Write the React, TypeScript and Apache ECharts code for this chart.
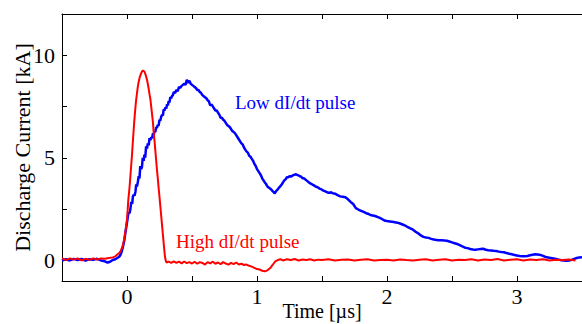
import { useEffect, useRef } from "react";
import * as echarts from "echarts";

const blueTime = [
  -0.5, -0.47, -0.44, -0.41, -0.38, -0.35, -0.32, -0.29, -0.26, -0.23, -0.2, -0.17, -0.15, -0.13, -0.11, -0.09,
  -0.075, -0.06, -0.05, -0.04, -0.03, -0.02, -0.01, 0, 0.007, 0.013, 0.02, 0.026, 0.033, 0.04, 0.045, 0.051,
  0.058, 0.065, 0.071, 0.077, 0.084, 0.09, 0.096, 0.102, 0.109, 0.115, 0.121, 0.128, 0.134, 0.14, 0.147, 0.154,
  0.16, 0.167, 0.173, 0.18, 0.186, 0.193, 0.2, 0.205, 0.212, 0.218, 0.225, 0.23, 0.237, 0.243, 0.25, 0.256,
  0.263, 0.27, 0.276, 0.282, 0.289, 0.295, 0.302, 0.308, 0.315, 0.32, 0.327, 0.333, 0.34, 0.346, 0.353, 0.36,
  0.37, 0.38, 0.39, 0.4, 0.41, 0.42, 0.43, 0.44, 0.45, 0.46, 0.47, 0.48, 0.49, 0.5, 0.51, 0.52, 0.53, 0.54,
  0.55, 0.56, 0.57, 0.58, 0.59, 0.6, 0.61, 0.62, 0.63, 0.64, 0.65, 0.66, 0.67, 0.68, 0.69, 0.7, 0.71, 0.72,
  0.73, 0.74, 0.75, 0.76, 0.77, 0.78, 0.79, 0.8, 0.81, 0.82, 0.83, 0.84, 0.85, 0.86, 0.87, 0.88, 0.89, 0.9,
  0.91, 0.92, 0.93, 0.94, 0.95, 0.96, 0.97, 0.98, 0.99, 1.0, 1.01, 1.02, 1.03, 1.04, 1.05, 1.06, 1.07, 1.08,
  1.09, 1.1, 1.11, 1.12, 1.13, 1.135, 1.14, 1.15, 1.16, 1.17, 1.18, 1.19, 1.2, 1.21, 1.22, 1.23, 1.24, 1.25,
  1.26, 1.27, 1.28, 1.29, 1.3, 1.31, 1.32, 1.33, 1.34, 1.35, 1.36, 1.37, 1.38, 1.39, 1.4, 1.41, 1.42, 1.43,
  1.44, 1.45, 1.46, 1.47, 1.48, 1.49, 1.5, 1.51, 1.52, 1.53, 1.54, 1.55, 1.56, 1.57, 1.58, 1.6, 1.62, 1.64,
  1.66, 1.68, 1.7, 1.72, 1.74, 1.76, 1.78, 1.8, 1.82, 1.84, 1.86, 1.88, 1.9, 1.92, 1.94, 1.96, 1.98, 2.0,
  2.02, 2.04, 2.06, 2.08, 2.1, 2.12, 2.14, 2.16, 2.18, 2.2, 2.22, 2.24, 2.26, 2.28, 2.3, 2.32, 2.34, 2.36,
  2.38, 2.4, 2.42, 2.44, 2.46, 2.48, 2.5, 2.52, 2.54, 2.56, 2.58, 2.6, 2.62, 2.64, 2.66, 2.68, 2.7, 2.72,
  2.74, 2.76, 2.78, 2.8, 2.82, 2.84, 2.86, 2.88, 2.9, 2.92, 2.94, 2.96, 2.98, 3.0, 3.02, 3.04, 3.06, 3.08,
  3.1, 3.12, 3.14, 3.16, 3.18, 3.2, 3.22, 3.24, 3.26, 3.28, 3.3, 3.32, 3.34, 3.36, 3.38, 3.4, 3.42, 3.44,
  3.46, 3.48, 3.5,
];
const blueCurrent = [
  0.0, 0.06, 0.0, 0.08, 0.02, 0.07, 0.0, 0.06, 0.03, 0.08, 0.0, -0.04, -0.1, -0.06, 0.02, 0.06,
  0.12, 0.18, 0.28, 0.45, 0.7, 1.0, 1.45, 1.85, 2.15, 2.35, 2.3, 2.5, 2.85, 2.75, 3.1, 3.2,
  3.15, 3.35, 3.7, 3.6, 3.85, 4.1, 4.0, 4.6, 4.45, 4.55, 5.0, 4.85, 5.15, 5.0, 5.55, 5.45,
  5.7, 5.6, 5.95, 5.85, 6.0, 5.95, 6.2, 6.1, 6.3, 6.25, 6.5, 6.45, 6.6, 6.55, 6.85, 6.8,
  7.0, 7.1, 7.05, 7.35, 7.3, 7.45, 7.4, 7.6, 7.55, 7.75, 7.7, 7.95, 7.9, 8.0, 8.05, 8.2,
  8.15, 8.3, 8.25, 8.45, 8.4, 8.5, 8.55, 8.6, 8.55, 8.8, 8.65, 8.75, 8.6, 8.55, 8.5, 8.45, 8.4, 8.3,
  8.3, 8.2, 8.15, 8.05, 8.0, 7.95, 7.9, 7.8, 7.75, 7.55, 7.6, 7.5, 7.4, 7.3, 7.3, 7.2, 7.1, 6.95,
  6.95, 6.85, 6.8, 6.7, 6.6, 6.55, 6.5, 6.4, 6.3, 6.25, 6.2, 6.1, 6.0, 5.9, 5.8, 5.7, 5.65, 5.5,
  5.4, 5.3, 5.25, 5.1, 5.05, 4.95, 4.85, 4.7, 4.6, 4.45, 4.35, 4.25, 4.15, 4.0, 3.9, 3.8, 3.72, 3.6,
  3.55, 3.5, 3.45, 3.38, 3.32, 3.26, 3.3, 3.4, 3.46, 3.55, 3.62, 3.7, 3.8, 3.9, 3.95, 4.05, 4.05, 4.1,
  4.08, 4.12, 4.15, 4.18, 4.2, 4.16, 4.14, 4.1, 4.08, 4.0, 4.0, 3.95, 3.9, 3.85, 3.8, 3.75, 3.72, 3.68,
  3.65, 3.6, 3.58, 3.55, 3.5, 3.48, 3.44, 3.4, 3.38, 3.35, 3.32, 3.3, 3.3, 3.32, 3.28, 3.25, 3.18, 3.12,
  3.1, 3.08, 2.98, 2.85, 2.75, 2.55, 2.48, 2.42, 2.36, 2.3, 2.26, 2.2, 2.18, 2.14, 2.08, 2.02, 1.95, 1.92, 1.9, 1.88,
  1.86, 1.84, 1.8, 1.75, 1.7, 1.62, 1.56, 1.5, 1.4, 1.32, 1.22, 1.15, 1.12, 1.1, 1.05, 1.02, 1.0, 0.98,
  0.98, 0.97, 0.96, 0.92, 0.88, 0.84, 0.8, 0.75, 0.68, 0.62, 0.6, 0.56, 0.53, 0.52, 0.54, 0.56, 0.57, 0.52,
  0.5, 0.49, 0.47, 0.46, 0.43, 0.41, 0.4, 0.36, 0.33, 0.3, 0.27, 0.24, 0.22, 0.21, 0.2, 0.22, 0.25, 0.28,
  0.3, 0.29, 0.27, 0.22, 0.17, 0.14, 0.12, 0.1, 0.07, 0.04, 0.01, 0.0, -0.02, 0.0, 0.03, 0.08, 0.12, 0.15,
  0.16, 0.14, 0.12,
];

const redTime = [
  -0.5, -0.47, -0.44, -0.41, -0.38, -0.35, -0.32, -0.29, -0.26, -0.23, -0.2, -0.17, -0.14, -0.11, -0.09, -0.077,
  -0.06, -0.05, -0.04, -0.03, -0.02, -0.01, -0.005, 0.0, 0.005, 0.01, 0.015, 0.02, 0.026, 0.032, 0.038, 0.043,
  0.049, 0.055, 0.06, 0.064, 0.07, 0.077, 0.083, 0.09, 0.097, 0.105, 0.111, 0.118, 0.123, 0.128, 0.134, 0.14,
  0.147, 0.154, 0.16, 0.167, 0.173, 0.18, 0.186, 0.193, 0.2, 0.205, 0.212, 0.218, 0.224, 0.23, 0.237, 0.243,
  0.25, 0.256, 0.262, 0.267, 0.272, 0.277, 0.282, 0.287, 0.291, 0.295, 0.3, 0.305,
  0.32, 0.34, 0.36, 0.38, 0.4, 0.42, 0.44, 0.46, 0.48, 0.5, 0.52, 0.54, 0.56, 0.58, 0.6, 0.62, 0.64, 0.66,
  0.68, 0.7, 0.72, 0.74, 0.76, 0.78, 0.8, 0.82, 0.84, 0.86, 0.88, 0.9, 0.92, 0.94, 0.96, 0.98, 1.0, 1.02,
  1.04, 1.06, 1.08, 1.1, 1.12, 1.14, 1.16, 1.18, 1.2, 1.23, 1.26, 1.29, 1.32, 1.35, 1.38, 1.41, 1.44, 1.47,
  1.5, 1.55, 1.6, 1.65, 1.7, 1.75, 1.8, 1.85, 1.9, 1.95, 2.0, 2.05, 2.1, 2.15, 2.2, 2.25, 2.3, 2.35, 2.4,
  2.45, 2.5, 2.55, 2.6, 2.65, 2.7, 2.75, 2.8, 2.85, 2.9, 2.95, 3.0, 3.05, 3.1, 3.15, 3.2, 3.25, 3.3, 3.35,
  3.4, 3.45, 3.5,
];
const redCurrent = [
  0.1, 0.02, 0.1, 0.04, 0.1, 0.0, 0.08, 0.03, 0.1, 0.05, 0.1, 0.08, 0.12, 0.15, 0.2, 0.28,
  0.36, 0.45, 0.58, 0.78, 1.1, 1.5, 1.75, 2.0, 2.45, 2.95, 3.25, 3.6, 4.1, 4.6, 5.1, 5.6,
  6.15, 6.7, 7.1, 7.4, 7.8, 8.15, 8.45, 8.7, 8.9, 9.05, 9.15, 9.22, 9.25, 9.25, 9.2, 9.1,
  8.95, 8.8, 8.6, 8.35, 8.1, 7.85, 7.5, 7.1, 6.7, 6.25, 5.8, 5.35, 4.9, 4.45, 4.0, 3.55,
  3.1, 2.67, 2.25, 1.9, 1.55, 1.2, 0.85, 0.5, 0.25, 0.08, -0.05, -0.1,
  -0.06, -0.12, -0.05, -0.12, -0.06, -0.14, -0.05, -0.13, -0.08, -0.15, -0.06, -0.16, -0.08, -0.12, -0.2, -0.08, -0.14, -0.06,
  -0.16, -0.1, -0.18, -0.08, -0.15, -0.2, -0.12, -0.18, -0.1, -0.2, -0.16, -0.22, -0.2, -0.26, -0.3, -0.36, -0.42, -0.44,
  -0.5, -0.53, -0.48, -0.38, -0.22, -0.05, 0.02, 0.06, 0.0, 0.06, 0.02, 0.07, 0.0, 0.05, 0.02, 0.06, 0.0, 0.04,
  0.02, 0.06, 0.0, 0.03, 0.05, 0.0, 0.03, 0.06, 0.0, 0.02, 0.04, 0.0, 0.05, 0.02, 0.0, 0.04, 0.06, 0.0, 0.03,
  0.06, 0.0, 0.04, 0.02, 0.06, 0.0, 0.05, 0.02, 0.07, 0.0, 0.04, 0.06, 0.0, 0.05, 0.02, 0.06, 0.0, 0.04,
  0.02, 0.05, 0.0,
];

const xTickValues = [0, 0.5, 1, 1.5, 2, 2.5, 3];
const xLabelValues = [0, 1, 2, 3];
const yTickValues = [0, 2.5, 5, 7.5, 10];
const yLabelValues = [0, 5, 10];

const FONT = "Liberation Serif";

export default function App() {
  const ref = useRef<HTMLDivElement>(null);
  useEffect(() => {
    const chart = echarts.init(ref.current!, null, { renderer: "svg" });
    const axisLine = { show: true, onZero: false, lineStyle: { color: "#000", width: 1 } };
    chart.setOption({
      animation: false,
      backgroundColor: "#fff",
      grid: { left: 62, right: 0, top: 14, bottom: 43, containLabel: false, outerBoundsMode: "none" },
      xAxis: [
        {
          type: "value",
          min: -0.5,
          max: 3.5,
          position: "bottom",
          axisLine,
          axisTick: { show: true, inside: true, length: 5, customValues: xTickValues, lineStyle: { color: "#000" } },
          axisLabel: { customValues: xLabelValues, color: "#000", fontFamily: FONT, fontSize: 22, margin: 4 },
          splitLine: { show: false },
          name: "Time [µs]",
          nameLocation: "middle",
          nameGap: 19,
          nameMoveOverlap: false,
          nameTextStyle: { color: "#000", fontFamily: FONT, fontSize: 20, lineHeight: 22 },
        },
        {
          type: "value",
          min: -0.5,
          max: 3.5,
          position: "top",
          axisLine,
          axisTick: { show: true, inside: true, length: 5, customValues: xTickValues, lineStyle: { color: "#000" } },
          axisLabel: { show: false },
          splitLine: { show: false },
        },
      ],
      yAxis: {
        type: "value",
        min: -1,
        max: 12,
        position: "left",
        axisLine,
        axisTick: { show: true, inside: true, length: 5, customValues: yTickValues, lineStyle: { color: "#000" } },
        axisLabel: { customValues: yLabelValues, color: "#000", fontFamily: FONT, fontSize: 22, margin: 7 },
        splitLine: { show: false },
        name: "Discharge Current [kA]",
        nameLocation: "middle",
        nameGap: 29,
        nameMoveOverlap: false,
        nameTextStyle: { color: "#000", fontFamily: FONT, fontSize: 22 },
      },
      graphic: [
        {
          type: "text",
          left: 235,
          top: 93,
          style: { text: "Low dI/dt pulse", fill: "#0000ff", fontFamily: FONT, fontSize: 19 },
        },
        {
          type: "text",
          left: 176,
          top: 232,
          style: { text: "High dI/dt pulse", fill: "#ff0000", fontFamily: FONT, fontSize: 19 },
        },
      ],
      series: [
        {
          type: "line",
          name: "Low dI/dt pulse",
          data: blueTime.map((t, i) => [t, blueCurrent[i]]),
          showSymbol: false,
          lineStyle: { color: "#0000ff", width: 2.5 },
          z: 2,
        },
        {
          type: "line",
          name: "High dI/dt pulse",
          data: redTime.map((t, i) => [t, redCurrent[i]]),
          showSymbol: false,
          lineStyle: { color: "#ff0000", width: 2 },
          z: 3,
        },
      ],
    });
    return () => chart.dispose();
  }, []);
  return <div ref={ref} style={{ position: "fixed", left: 0, top: 0, width: 582, height: 324 }} />;
}
